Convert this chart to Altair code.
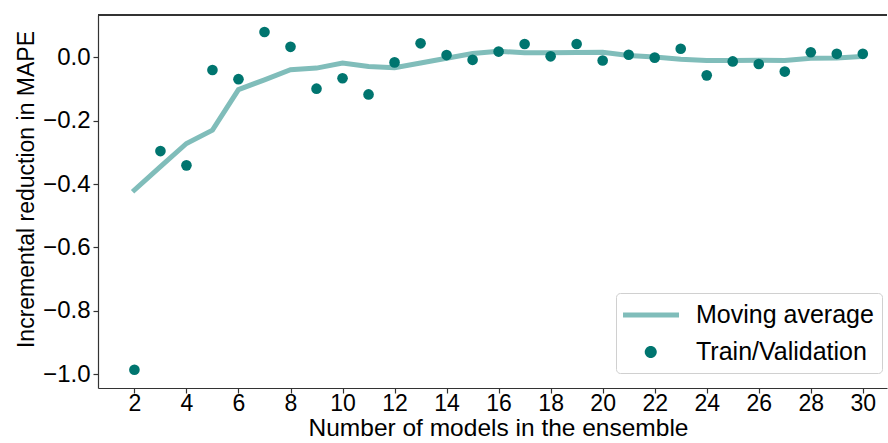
import altair as alt
import pandas as pd

n_models = list(range(2, 31))
train_val = [-0.986, -0.296, -0.341, -0.040, -0.069, 0.080, 0.033, -0.099, -0.066, -0.117,
             -0.016, 0.044, 0.007, -0.008, 0.018, 0.042, 0.003, 0.042, -0.010, 0.008,
             -0.001, 0.027, -0.057, -0.013, -0.021, -0.045, 0.016, 0.011, 0.011]
moving_avg = [-0.419, -0.345, -0.272, -0.230, -0.102, -0.071, -0.039, -0.034, -0.018, -0.029,
              -0.033, -0.018, -0.003, 0.012, 0.019, 0.014, 0.014, 0.015, 0.016, 0.006,
              0.001, -0.006, -0.010, -0.010, -0.009, -0.010, -0.003, -0.002, 0.003]
series_names = ["Moving average", "Train/Validation"]
x_ticks = list(range(2, 31, 2))
y_ticks = [-1.0, -0.8, -0.6, -0.4, -0.2, 0.0]

LINE_C = "#80BDBA"
PT_C = "#00756F"
FONT = "Liberation Sans"
W, H = 789, 373
S = 784  # symbol box side 28 px (unit = 14 px)
LEG_RECT = "M-1.07,-0.18H2.93V0.18H-1.07Z"
LEG_CIRC = "M1.34,0A0.43,0.43,0,1,1,0.48,0A0.43,0.43,0,1,1,1.34,0Z"

df_line = pd.DataFrame({"n": n_models, "v": moving_avg})
df_pts = pd.DataFrame({"n": n_models, "v": train_val})
df_leg = pd.DataFrame({"n": [2, 2], "v": [5.0, 5.0], "series": series_names})

xs = alt.Scale(domain=[0.6, 30.93], nice=False, zero=False)
ys = alt.Scale(domain=[-1.0435, 0.1335], nice=False, zero=False)
xax = alt.Axis(values=x_ticks, format="d", title="Number of models in the ensemble",
               titleX=400, grid=False, labelPadding=-1, labelFontSize=23,
               titlePadding=1, titleFontSize=24.5)
yax = alt.Axis(values=y_ticks, format=".1f", title="Incremental reduction in MAPE",
               titleY=174, grid=False, titleFontSize=23, titlePadding=4,
               labelExpr="replace(datum.label, '-', '\u2212')")

line = alt.Chart(df_line).mark_line(strokeWidth=5, strokeCap="square", color=LINE_C).encode(
    x=alt.X("n:Q", scale=xs, axis=xax),
    y=alt.Y("v:Q", scale=ys, axis=yax),
)
pts = alt.Chart(df_pts).mark_circle(size=113, opacity=1, color=PT_C).encode(
    x=alt.X("n:Q", scale=xs, axis=xax),
    y=alt.Y("v:Q", scale=ys, axis=yax),
)
legend = alt.Legend(title=None, orient="none", legendX=518, legendY=278, labelLimit=400)
leg = alt.Chart(df_leg).mark_point(filled=True, size=S, opacity=1, clip=True).encode(
    x=alt.X("n:Q", scale=xs, axis=xax),
    y=alt.Y("v:Q", scale=ys, axis=yax),
    color=alt.Color("series:N", scale=alt.Scale(domain=series_names, range=[LINE_C, PT_C]),
                    legend=legend),
    shape=alt.Shape("series:N", scale=alt.Scale(domain=series_names, range=[LEG_RECT, LEG_CIRC]),
                    legend=legend),
)
top = alt.Chart(df_line).mark_rule(color="#333333", strokeWidth=1.2).encode(
    x=alt.value(0), x2=alt.value(W), y=alt.value(0)
)

chart = alt.layer(line, pts, leg, top).properties(
    width=W, height=H,
    autosize=alt.AutoSizeParams(type="none"),
    padding={"left": 98, "top": 15, "right": 1, "bottom": 55},
).configure_view(stroke=None).configure_axis(
    labelFont=FONT, titleFont=FONT, labelFontSize=24,
    labelColor="black", titleColor="black", titleFontWeight="normal",
    domainColor="#333333", domainWidth=1.2, tickColor="#333333", tickWidth=1.2,
    tickSize=5, labelPadding=3,
).configure_legend(
    labelFont=FONT, labelFontSize=25, labelColor="black", symbolSize=S,
    padding=8, rowPadding=10, labelOffset=44, strokeColor="#d0d0d0",
    cornerRadius=4, fillColor="white", symbolStrokeWidth=0,
)

chart.save("out.html", embed_options={"renderer": "svg", "actions": False})
